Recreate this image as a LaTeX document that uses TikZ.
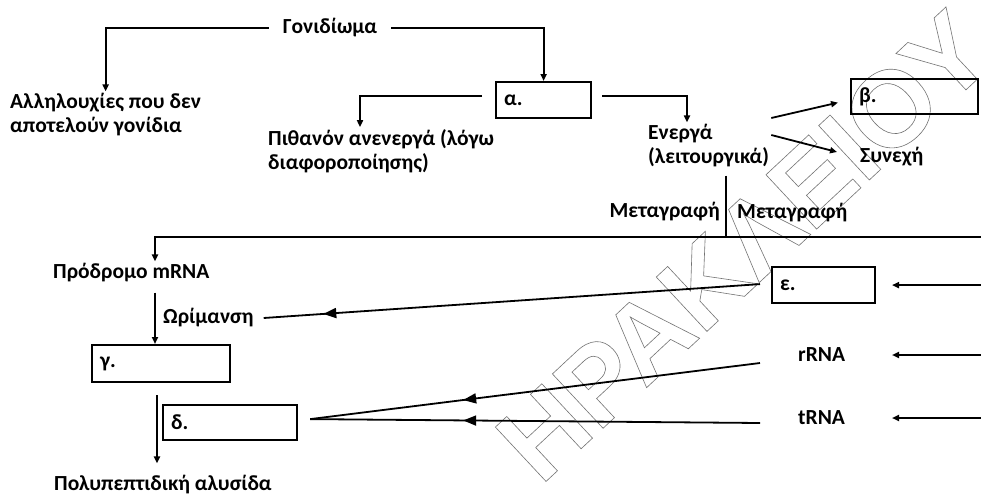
\documentclass[tikz,border=0pt]{standalone}
\usepackage{fontspec}
\setmainfont{Carlito}
\newfontfamily\wmfont{Liberation Sans}
\usetikzlibrary{arrows.meta,decorations.markings,calc}

% hollow letters for the watermark
\newcommand\hollow[1]{\special{pdf:literal direct 1 Tr 0.6 w}#1\special{pdf:literal direct 0 Tr}}

\tikzset{
  lbl/.style={font=\bfseries\fontsize{21.5}{24}\selectfont, inner sep=2pt, align=left},
  box/.style={lbl, draw, line width=2.2pt, minimum height=36pt, inner xsep=8pt, anchor=north west},
  conn/.style={line width=1.8pt},
  arr/.style={conn, -{Triangle[length=7pt,width=6pt]}},
  midarr/.style={conn, postaction={decorate},
    decoration={markings, mark=at position #1 with {\arrow{Triangle[length=13pt,width=10pt]}}}},
}

\begin{document}
\begin{tikzpicture}[x=1pt,y=-1pt]
    \useasboundingbox[fill=white] (0,0) rectangle (981,495);

    % watermark
    \node[rotate=43, text=black!55, font=\wmfont\bfseries\fontsize{108}{108}\selectfont] (wm) at (744,246) {\hollow{ΗΡΑΚΛΕΙΟΥ}};

    % texts
    \node[lbl, inner xsep=14pt] (gen) at (330,28) {Γονιδίωμα};
    \node[lbl, anchor=west] (nongen) at (8,115) {Αλληλουχίες που δεν\\αποτελούν γονίδια};
    \node[lbl, anchor=west] (inact) at (266,151) {Πιθανόν ανενεργά (λόγω\\διαφοροποίησης)};
    \node[lbl, anchor=west] (act) at (646,146) {Ενεργά\\(λειτουργικά)};
    \node[lbl, anchor=west] (cont) at (858,157) {Συνεχή};
    \node[lbl, anchor=east] (trl) at (722,212) {Μεταγραφή};
    \node[lbl, anchor=west] (trr) at (735,213) {Μεταγραφή};
    \node[lbl, anchor=west] (pre) at (51,273) {Πρόδρομο mRNA};
    \node[lbl, anchor=west] (mat) at (161,318) {Ωρίμανση};
    \node[lbl, anchor=west] (rrna) at (796,355) {rRNA};
    \node[lbl, anchor=west] (trna) at (796,418) {tRNA};
    \node[lbl, anchor=west] (poly) at (52,485) {Πολυπεπτιδική αλυσίδα};

    % boxes
    \node[box, text width=79pt] (a) at (495,81) {α.};
    \node[box, text width=111pt, minimum height=35pt] (b) at (850,78) {β.};
    \node[box, text width=87pt] (e) at (771,266) {ε.};
    \node[box, text width=122pt, minimum height=37pt] (g) at (91,344) {γ.};
    \node[box, text width=118pt, minimum height=35pt] (d) at (162,404) {δ.};

    \coordinate (split) at (726,237);
    \coordinate (redge) at (981,237);
    \coordinate (ax) at (155,0);
    \coordinate (rx) at (981,0);
    \coordinate (tx) at (892,0);
    \coordinate (apex) at ($(d.east)+(12,-3.5)$);

    % genome
    \draw[arr] (gen.west) -| (nongen.north);
    \draw[arr] (gen.east) -| (a.north);
    \draw[arr] ($(a.west)+(-13,-4)$) -| ($(inact.north west)+(94,0)$);
    \draw[arr] ($(a.east)+(10,-4)$) -| ($(act.north west)+(41,0)$);
    \draw[arr] ($(act.east)+(0,-28)$) -- ($(b.west)+(-12,6)$);
    \draw[arr] ($(act.east)+(0,-11)$) -- ($(cont.west)+(-21,-5)$);

    % transcription
    \draw[conn] ($(split |- act.south)+(0,6)$) -- (split);
    \draw[arr] (redge) -- (split) -| (pre.north -| ax);
    \draw[arr] ($(pre.south -| ax)+(0,8)$) -- (g.north -| ax);
    \draw[arr] ($(g.south -| ax)+(2,12)$) -- ($(poly.north -| ax)+(2,-10)$);

    % RNA
    \draw[midarr=0.88] ($(e.west)+(-11,-1)$) -- ($(mat.east)+(8,0)$);
    \draw[midarr=0.66] ($(rrna.west)+(-36,8)$) -- (apex);
    \draw[midarr=0.66] ($(trna.west)+(-36,5)$) -- (apex);
    \foreach \n in {e,rrna,trna}
        \draw[arr] (rx |- \n.east) -- (tx |- \n.east);
\end{tikzpicture}
\end{document}
